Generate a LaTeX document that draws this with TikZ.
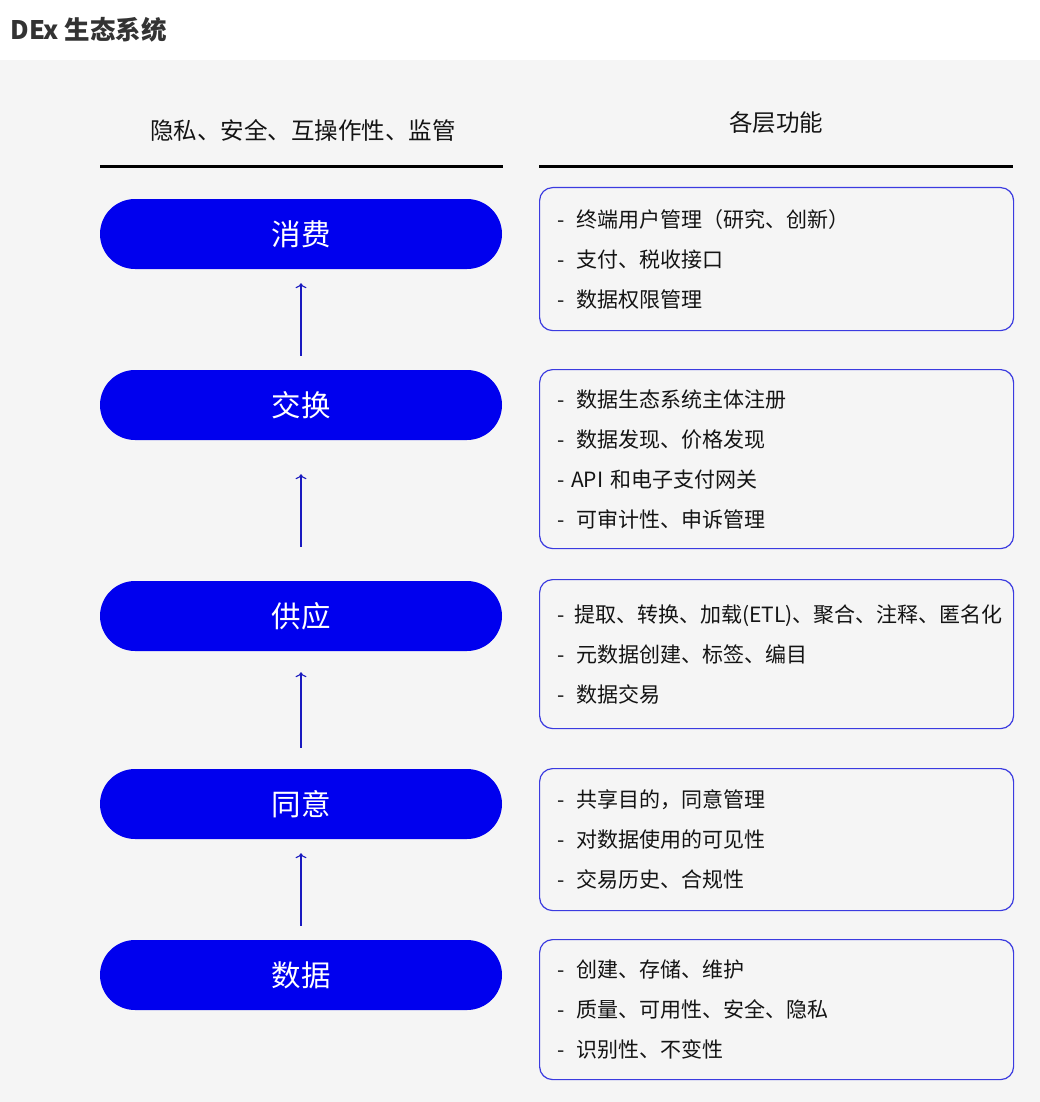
\documentclass[tikz,border=0pt]{standalone}
\usepackage{fontspec}
\setmainfont{Noto Sans CJK SC}
\usetikzlibrary{positioning,arrows.meta}

\definecolor{pillblue}{HTML}{0000EE}
\definecolor{linkblue}{HTML}{1A1AC0}
\definecolor{frameblue}{HTML}{3B3BE0}
\definecolor{bggray}{HTML}{F5F5F5}
\definecolor{titlegray}{HTML}{333333}
\newcommand{\fitem}[1]{-\hspace{0.55em}#1}

\begin{document}
\begin{tikzpicture}[
        x=1pt, y=-1pt,
        layer/.style={fill=pillblue, rounded corners=35pt, minimum width=402pt,
          minimum height=70pt, text=white, font=\fontsize{29.5}{34}\selectfont},
        func/.style={draw=frameblue, line width=1.2pt, rounded corners=13pt,
          minimum width=474pt, text width=438pt, inner xsep=18pt, align=left,
          anchor=north west, text=black!92, font=\fontsize{21}{40}\selectfont},
        up/.style={-{To[length=5pt,width=11pt]}, draw=linkblue, line width=1.1pt},
        head/.style={text=black!92, font=\fontsize{23.5}{28}\selectfont}]
        % 画布与背景
        \useasboundingbox (0,0) rectangle (1040,1102);
        \fill[bggray] (0,60) rectangle (1040,1102);
        % 标题
        \node[anchor=west, text=titlegray, font=\bfseries\fontsize{25.5}{30}\selectfont]
          (title) at (7,30) {DEx 生态系统};
        % 两列表头与横线
        \node[head] (lefthead) at (303,130) {隐私、安全、互操作性、监管};
        \node[head] (righthead) at (776,123) {各层功能};
        \draw[line width=3pt] (100,167) -- (503,167);
        \draw[line width=3pt] (539,167) -- (1013,167);
        % 各层
        \node[layer] (cons) at (301,234) {消费};
        \node[layer] (exch) at (301,405) {交换};
        \node[layer] (supply) at (301,616) {供应};
        \node[layer] (consent) at (301,804) {同意};
        \node[layer] (data) at (301,975) {数据};
        % 层间箭头
        \foreach \lo/\hi/\gap in {exch/cons/14, supply/exch/34, consent/supply/21, data/consent/14}
          \draw[up, shorten <=\gap pt, shorten >=\gap pt] (\lo.north) -- (\hi.south);
        % 各层功能
        \node[func, minimum height=143pt] (fcons) at (539,187)
          {\fitem{终端用户管理（研究、创新）}\\ \fitem{支付、税收接口}\\ \fitem{数据权限管理}};
        \node[func, minimum height=179pt] (fexch) at (539,369)
          {\fitem{数据生态系统主体注册}\\ \fitem{数据发现、价格发现}\\ -\hspace{0.3em}API 和电子支付网关\\ \fitem{可审计性、申诉管理}};
        \node[func, minimum height=149pt] (fsupply) at (539,579)
          {-\hspace{0.45em}提取、转换、加载(ETL)、聚合、注释、匿名化\\ \fitem{元数据创建、标签、编目}\\ \fitem{数据交易}};
        \node[func, minimum height=142pt] (fconsent) at (539,768)
          {\fitem{共享目的，同意管理}\\ \fitem{对数据使用的可见性}\\ \fitem{交易历史、合规性}};
        \node[func, minimum height=140pt] (fdata) at (539,939)
          {\fitem{创建、存储、维护}\\ \fitem{质量、可用性、安全、隐私}\\ \fitem{识别性、不变性}};
      \end{tikzpicture}
\end{document}
